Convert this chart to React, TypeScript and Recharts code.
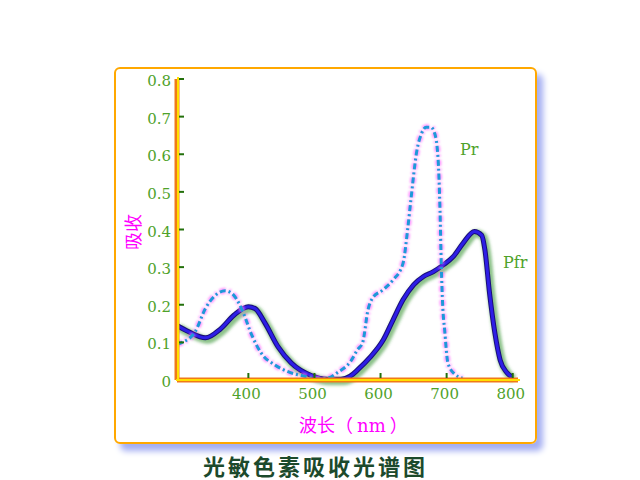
import React from 'react';
import { LineChart, Line, XAxis, YAxis } from 'recharts';

// Pr (red-light absorbing form) — wavelength (nm) and absorbance
const prNm = [292, 300, 320, 335, 350, 365, 378, 392, 405, 420, 440, 460, 485, 505, 520, 535, 555, 565, 573, 581, 588, 604, 619, 634, 641, 646, 655, 662, 669, 676, 682, 687, 690, 692, 694, 697, 702, 712, 724];
const prAbs = [0.095, 0.1, 0.13, 0.19, 0.225, 0.237, 0.225, 0.18, 0.12, 0.07, 0.04, 0.022, 0.01, 0.003, 0.005, 0.02, 0.05, 0.08, 0.1, 0.186, 0.218, 0.24, 0.266, 0.31, 0.4, 0.48, 0.61, 0.655, 0.672, 0.672, 0.655, 0.59, 0.45, 0.3, 0.2, 0.133, 0.045, 0.016, 0.005];

// Pfr (far-red absorbing form)
const pfrNm = [292, 310, 335, 358, 378, 400, 410, 425, 445, 465, 495, 520, 540, 554, 566, 584, 604, 619, 634, 650, 665, 680, 695, 710, 725, 742, 753, 758, 765, 773, 781, 791, 799];
const pfrAbs = [0.145, 0.128, 0.112, 0.136, 0.172, 0.195, 0.19, 0.152, 0.088, 0.045, 0.012, 0.002, 0.002, 0.01, 0.028, 0.06, 0.106, 0.16, 0.213, 0.253, 0.275, 0.288, 0.306, 0.328, 0.364, 0.395, 0.385, 0.345, 0.23, 0.125, 0.053, 0.02, 0.008];

const xTicks = [400, 500, 600, 700, 800];
const yTicks = [0, 0.1, 0.2, 0.3, 0.4, 0.5, 0.6, 0.7, 0.8];

const prData = prNm.map((nm, i) => ({ nm, v: prAbs[i] }));
const pfrData = pfrNm.map((nm, i) => ({ nm, v: pfrAbs[i] }));

const tickColor = '#4fa22a';
const tickMark = '#23700c';
const serif = '"DejaVu Serif", "Liberation Serif", serif';
const cjk = '"Noto Sans CJK SC", sans-serif';

const YTick = ({ x, y, payload }: any) => (
  <g>
    <line x1={x + 2} x2={x + 7} y1={y} y2={y} stroke={tickMark} strokeWidth={2} />
    <text x={x - 6} y={y} dy={7} textAnchor="end" fill={tickColor} fontSize={15} fontFamily={serif}>
      {payload.value === 0 ? '0' : String(payload.value)}
    </text>
  </g>
);

const XTick = ({ x, y, payload }: any) => (
  <g>
    <line x1={x} x2={x} y1={y - 2} y2={y - 7} stroke={tickMark} strokeWidth={2} />
    <text x={x - 2} y={y} dy={19} textAnchor="middle" fill={tickColor} fontSize={15} fontFamily={serif}>
      {payload.value}
    </text>
  </g>
);

const prDash = '6 3 2 3';

export default function App() {
  return (
    <div style={{ position: 'fixed', left: 0, top: 0, width: 640, height: 480, background: '#fff', overflow: 'hidden' }}>
      {/* frame */}
      <div
        style={{
          position: 'absolute', left: 114, top: 67, width: 423, height: 377, boxSizing: 'border-box',
          border: '2.5px solid #ffa800', borderRadius: 6, boxShadow: '6px 7px 6px #a4aef2',
        }}
      />
      <div style={{ position: 'absolute', left: 0, top: 0 }}>
        <LineChart width={640} height={480} margin={{ top: 79, right: 122, bottom: 70, left: 137 }}>
          <defs>
            <filter id="greenGlow" x="-10%" y="-10%" width="120%" height="120%">
              <feGaussianBlur stdDeviation="1.5" />
              <feOffset dx="1.5" dy="1.5" />
            </filter>
            <filter id="pinkGlow" x="-10%" y="-10%" width="120%" height="120%">
              <feGaussianBlur stdDeviation="1.2" />
            </filter>
          </defs>
          <XAxis
            type="number" dataKey="nm" domain={[292, 808]} ticks={xTicks} allowDataOverflow
            height={30} tickLine={false} tickSize={0} tickMargin={0} tick={<XTick />}
            axisLine={{ stroke: '#f07a18', strokeWidth: 5 }}
          />
          <YAxis
            type="number" domain={[0, 0.8]} ticks={yTicks} width={40}
            tickLine={false} tickSize={0} tickMargin={0} tick={<YTick />}
            axisLine={{ stroke: '#f07a18', strokeWidth: 5 }}
          />

          <Line data={pfrData} dataKey="v" type="monotone" stroke="#3f9a3a" strokeOpacity={0.6} strokeWidth={8}
            dot={false} activeDot={false} isAnimationActive={false} filter="url(#greenGlow)" />
          <Line data={pfrData} dataKey="v" type="monotone" stroke="#1a0c7a" strokeWidth={5}
            dot={false} activeDot={false} isAnimationActive={false} />
          <Line data={pfrData} dataKey="v" type="monotone" stroke="#2d1ee6" strokeWidth={3}
            dot={false} activeDot={false} isAnimationActive={false} />

          <Line data={prData} dataKey="v" type="monotone" stroke="#ff66ff" strokeOpacity={0.7} strokeWidth={6}
            strokeDasharray={prDash} dot={false} activeDot={false} isAnimationActive={false} filter="url(#pinkGlow)" />
          <Line data={prData} dataKey="v" type="monotone" stroke="#1d9ad8" strokeWidth={3}
            strokeDasharray={prDash} dot={false} activeDot={false} isAnimationActive={false} />
        </LineChart>
      </div>

      {/* yellow core of the axis lines */}
      <div style={{ position: 'absolute', left: 176.5, top: 77, width: 2, height: 304, background: '#ffe000' }} />
      <div style={{ position: 'absolute', left: 176, top: 379, width: 344, height: 2, background: '#ffe000' }} />

      {/* series labels */}
      <div style={{ position: 'absolute', left: 460, top: 140, color: '#4fa22a', fontFamily: serif, fontSize: 16 }}>Pr</div>
      <div style={{ position: 'absolute', left: 503, top: 253, color: '#4fa22a', fontFamily: serif, fontSize: 16 }}>Pfr</div>

      {/* axis titles */}
      <div
        style={{
          position: 'absolute', left: 132, top: 232, transform: 'translate(-50%, -50%) rotate(-90deg)',
          color: '#ff00ff', fontFamily: cjk, fontSize: 18, whiteSpace: 'nowrap',
        }}
      >
        吸收
      </div>
      <div style={{ position: 'absolute', left: 299, top: 411, color: '#ff00ff', fontFamily: cjk, fontSize: 18, whiteSpace: 'nowrap' }}>
        波长（ <span style={{ fontFamily: serif }}>nm</span> ）
      </div>

      {/* chart title */}
      <div
        style={{
          position: 'absolute', left: 203, top: 449, color: '#1c4a2c', fontFamily: cjk,
          fontSize: 22, fontWeight: 700, letterSpacing: 3, whiteSpace: 'nowrap',
        }}
      >
        光敏色素吸收光谱图
      </div>
    </div>
  );
}
